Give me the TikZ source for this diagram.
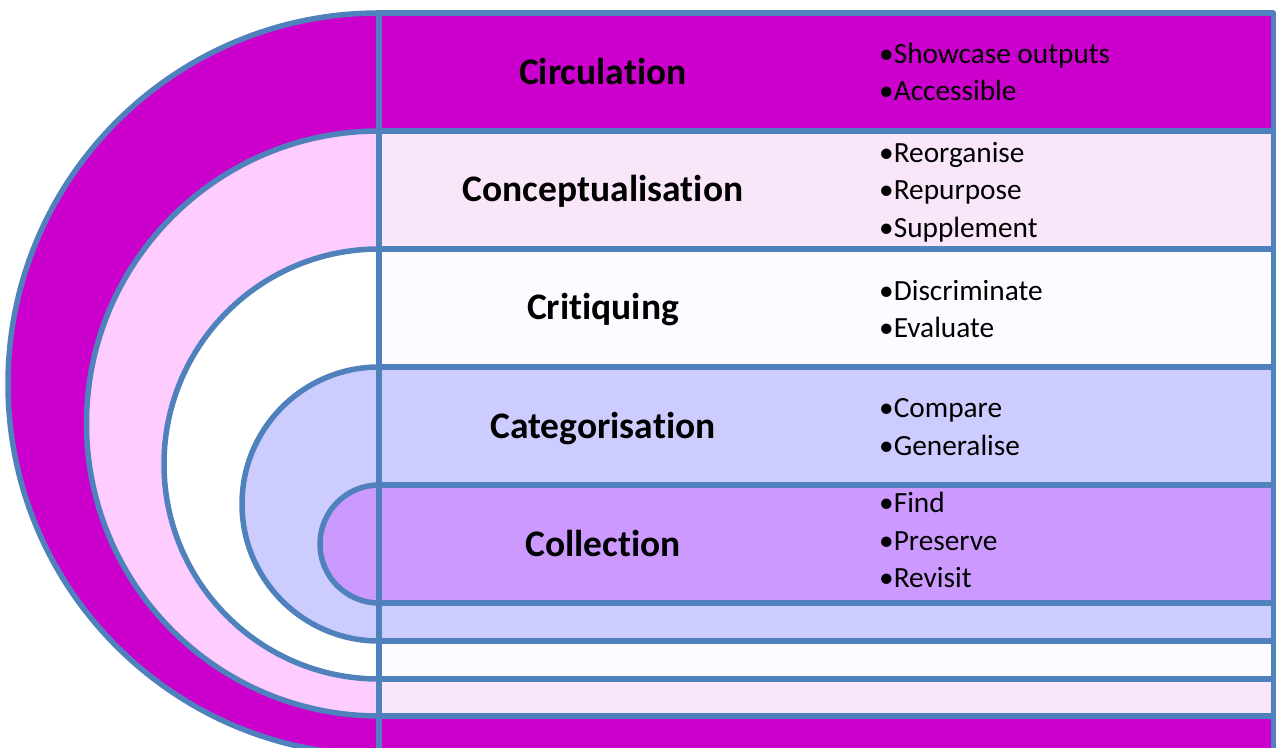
\documentclass[tikz,border=0pt]{standalone}
\usepackage{fontspec}
\setmainfont{Carlito}[Ligatures=NoCommon]
\definecolor{bd}{HTML}{4F81BD}
\definecolor{magL}{HTML}{CC00CC}
\definecolor{pinkL}{HTML}{FFCCFF}
\definecolor{pinkR}{HTML}{F9E6F9}
\definecolor{whiteR}{HTML}{FDFBFF}
\definecolor{lavL}{HTML}{CCCCFF}
\definecolor{purL}{HTML}{CC99FF}
\begin{document}
\begin{tikzpicture}[x=1pt,y=-1pt,
  band/.style={draw=bd, line width=5.5pt, line join=round},
  title/.style={font=\bfseries\fontsize{37.5}{44}\selectfont, anchor=base, inner sep=0pt},
  item/.style={font=\fontsize{29.3}{35}\selectfont, anchor=base west, inner sep=0pt}]
\useasboundingbox (0,0) rectangle (1276,747);
\clip (0,0) rectangle (1276,747);
% level shapes: top, bottom, left colour, right colour
\foreach \t/\b/\lc/\rc in {13/755/magL/magL, 131/716/pinkL/pinkR, 249/679/white/whiteR, 367/641/lavL/lavL, 485/603/purL/purL}{
  \pgfmathsetmacro{\r}{(\b-\t)/2}
  \path[band, fill=\lc] (379,\t) arc[start angle=-90, end angle=-270, radius=\r] -- cycle;
  \path[band, fill=\rc] (379,\t) rectangle (1273.5,\b);
}
\coordinate (vt) at (379,10);
\coordinate (vb) at (379,747);
\draw[bd, line width=5.5pt] (vt) -- (vb);
% titles
\node[title] (t1) at (603,84.5) {Circula\kern0pt tion};
\node[title] (t2) at (603,201.5) {Conceptualisa\kern0pt tion};
\node[title] (t3) at (603,319.5) {Cri\kern0pt tiquing};
\node[title] (t4) at (603,438) {Categorisa\kern0pt tion};
\node[title] (t5) at (603,556.5) {Collec\kern0pt tion};
% bullets
\node[item] (b11) at (879,63) {•Showcase outputs};
\node[item] (b12) at (879,100.7) {•Accessible};
\node[item] (b21) at (879,162.4) {•Reorganise};
\node[item] (b22) at (879,199.7) {•Repurpose};
\node[item] (b23) at (879,237.4) {•Supplement};
\node[item] (b31) at (879,300) {•Discriminate};
\node[item] (b32) at (879,337.4) {•Evaluate};
\node[item] (b41) at (879,417.4) {•Compare};
\node[item] (b42) at (879,455) {•Generalise};
\node[item] (b51) at (879,512.4) {•Find};
\node[item] (b52) at (879,550.7) {•Preserve};
\node[item] (b53) at (879,587.4) {•Revisit};
\end{tikzpicture}
\end{document}
